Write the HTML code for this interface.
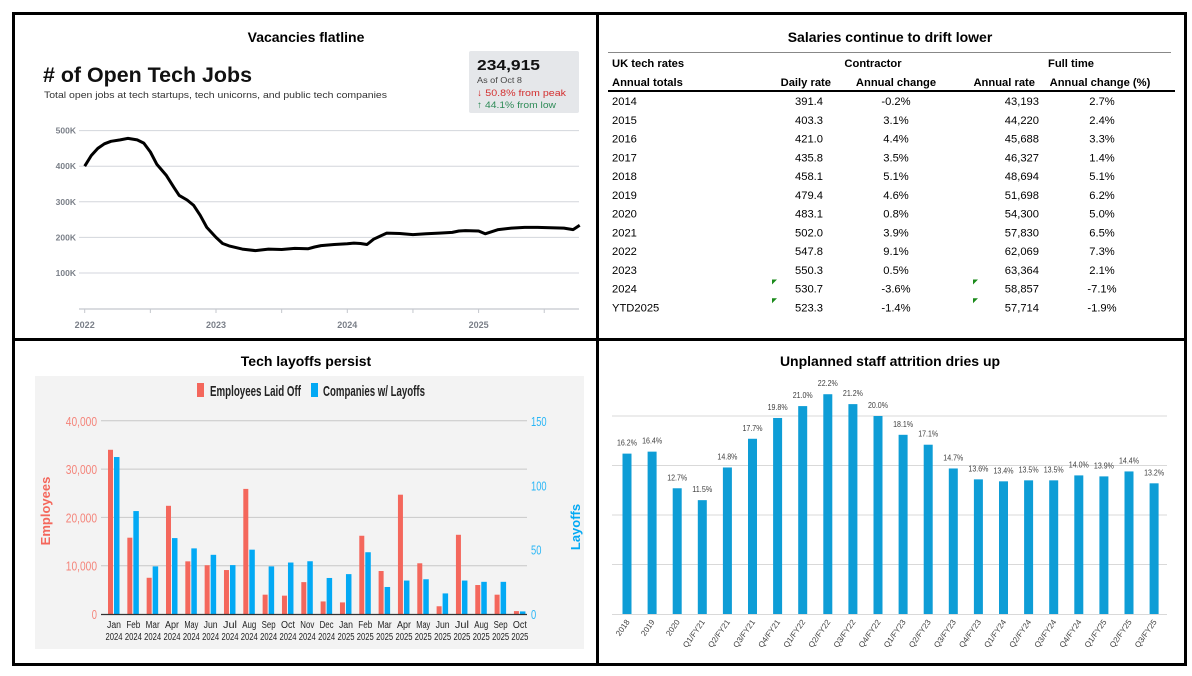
<!DOCTYPE html>
<html><head><meta charset="utf-8"><style>
body{margin:0;background:#fff;}
svg{display:block;font-family:"Liberation Sans",sans-serif;}
</style></head><body>
<svg id="s" width="1192" height="676" xmlns="http://www.w3.org/2000/svg">
<rect x="0" y="0" width="1192" height="676" fill="#fff"/>
<g fill="#000">
<rect x="12" y="12" width="1175" height="3"/>
<rect x="12" y="663" width="1175" height="3"/>
<rect x="12" y="12" width="3" height="654"/>
<rect x="1184" y="12" width="3" height="654"/>
<rect x="596" y="12" width="3" height="654"/>
<rect x="12" y="338" width="1175" height="3"/>
</g>
<text x="306" y="42" text-anchor="middle" font-size="14" font-weight="bold">Vacancies flatline</text>
<text x="890" y="42" text-anchor="middle" font-size="14" font-weight="bold">Salaries continue to drift lower</text>
<text x="306" y="366" text-anchor="middle" font-size="14" font-weight="bold">Tech layoffs persist</text>
<text x="890" y="366" text-anchor="middle" font-size="14" font-weight="bold">Unplanned staff attrition dries up</text>

<g id="tl">
<text x="43" y="82" font-size="21" font-weight="bold" fill="#111" textLength="209" lengthAdjust="spacingAndGlyphs"># of Open Tech Jobs</text>
<text x="44" y="98" font-size="9.4" fill="#333" textLength="343" lengthAdjust="spacingAndGlyphs">Total open jobs at tech startups, tech unicorns, and public tech companies</text>
<g>
<rect x="469" y="51" width="110" height="62" rx="2" fill="#e5e7ea"/>
<text x="477" y="70" font-size="15" font-weight="bold" fill="#111" textLength="63" lengthAdjust="spacingAndGlyphs">234,915</text>
<text x="477" y="83" font-size="8" fill="#444" textLength="45" lengthAdjust="spacingAndGlyphs">As of Oct 8</text>
<text x="477" y="96" font-size="9.5" fill="#d32f2f" textLength="89" lengthAdjust="spacingAndGlyphs">↓ 50.8% from peak</text>
<text x="477" y="108" font-size="9.5" fill="#2e8b57" textLength="79" lengthAdjust="spacingAndGlyphs">↑ 44.1% from low</text>
</g>
</g>

<g id="tbl" font-size="11.2" fill="#000">
<rect x="608" y="52" width="563" height="1" fill="#888"/>
<text x="612" y="67" font-weight="bold">UK tech rates</text>
<text x="873" y="67" font-weight="bold" text-anchor="middle">Contractor</text>
<text x="1071" y="67" font-weight="bold" text-anchor="middle">Full time</text>
<text x="612" y="86" font-weight="bold">Annual totals</text>
<text x="831" y="86" font-weight="bold" text-anchor="end">Daily rate</text>
<text x="896" y="86" font-weight="bold" text-anchor="middle">Annual change</text>
<text x="1035" y="86" font-weight="bold" text-anchor="end">Annual rate</text>
<text x="1100" y="86" font-weight="bold" text-anchor="middle">Annual change (%)</text>
<rect x="608" y="90" width="567" height="2" fill="#000"/>
</g>
</svg>
<script>
const NS="http://www.w3.org/2000/svg";
const svg=document.getElementById('s');
function mk(tag,attrs,parent,txt){const e=document.createElementNS(NS,tag);for(const k in attrs)e.setAttribute(k,attrs[k]);if(txt!==undefined)e.textContent=txt;(parent||svg).appendChild(e);return e;}

/* ---------- Chart 1: open tech jobs ---------- */
const jobYears=[2022.0,2022.05,2022.1,2022.15,2022.2,2022.27,2022.33,2022.4,2022.45,2022.5,2022.55,2022.62,2022.68,2022.72,2022.78,2022.83,2022.88,2022.93,2023.0,2023.05,2023.1,2023.2,2023.3,2023.4,2023.5,2023.6,2023.7,2023.75,2023.8,2023.9,2024.0,2024.05,2024.1,2024.15,2024.2,2024.3,2024.4,2024.5,2024.6,2024.7,2024.8,2024.85,2024.9,2025.0,2025.05,2025.15,2025.25,2025.35,2025.45,2025.55,2025.65,2025.72,2025.77];
const jobValues=[400,430,450,463,470,474,478,474,465,440,405,375,340,318,305,290,262,228,200,183,176,167,163,167,166,169,168,173,177,180,182,184,183,180,195,212,211,208,210,212,214,218,219,218,210,222,226,228,228,227,226,222,234];
const jobTicks=[100,200,300,400,500];
const jobTickLabels=['100K','200K','300K','400K','500K'];
const jobYearLabels=[2022,2023,2024,2025];
const tl=document.getElementById('tl');
const jx=y=>84.7+(y-2022)*131.3, jy=v=>308.6-v*0.356;
jobTicks.forEach((t,i)=>{
  const g=mk('line',{x1:79,x2:579,y1:jy(t),y2:jy(t),stroke:'#d3d6dc','stroke-width':1},tl);
  
  
  const l=mk('text',{x:76,y:jy(t)+3,'text-anchor':'end','font-size':8.5,'font-weight':'bold',fill:'#7a7f88'},tl,jobTickLabels[i]);
  
  
});
const ax=mk('line',{x1:79,x2:579,y1:309,y2:309,stroke:'#c4c7cd','stroke-width':1.2},tl);


for(let h=0;h<8;h++){const t=mk('line',{x1:jx(2022+h/2),x2:jx(2022+h/2),y1:309,y2:313,stroke:'#c4c7cd'},tl);
  
  }
jobYearLabels.forEach(y=>{const l=mk('text',{x:jx(y),y:328,'text-anchor':'middle','font-size':9,'font-weight':'bold',fill:'#7a7f88'},tl,String(y));
  
  });
const line=mk('polyline',{points:jobYears.map((y,i)=>jx(y).toFixed(1)+','+jy(jobValues[i]).toFixed(1)).join(' '),fill:'none',stroke:'#000','stroke-width':3,'stroke-linejoin':'round'},tl);



/* ---------- Table ---------- */
const rowYears=['2014','2015','2016','2017','2018','2019','2020','2021','2022','2023','2024','YTD2025'];
const dailyRate=['391.4','403.3','421.0','435.8','458.1','479.4','483.1','502.0','547.8','550.3','530.7','523.3'];
const contractChange=['-0.2%','3.1%','4.4%','3.5%','5.1%','4.6%','0.8%','3.9%','9.1%','0.5%','-3.6%','-1.4%'];
const annualRate=['43,193','44,220','45,688','46,327','48,694','51,698','54,300','57,830','62,069','63,364','58,857','57,714'];
const ftChange=['2.7%','2.4%','3.3%','1.4%','5.1%','6.2%','5.0%','6.5%','7.3%','2.1%','-7.1%','-1.9%'];
const tbl=document.getElementById('tbl');
rowYears.forEach((yr,i)=>{
  const y=105+i*18.75;
  const g=mk('g',{},tbl);
  
  
  mk('text',{x:612,y:y},g,yr);
  mk('text',{x:823,y:y,'text-anchor':'end'},g,dailyRate[i]);
  mk('text',{x:896,y:y,'text-anchor':'middle'},g,contractChange[i]);
  mk('text',{x:1039,y:y,'text-anchor':'end'},g,annualRate[i]);
  mk('text',{x:1102,y:y,'text-anchor':'middle'},g,ftChange[i]);
  if(i>=10){
    const a=mk('polygon',{points:`772,${y-13} 777,${y-13} 772,${y-8}`,fill:'#1a8a1a'},g);
    
    
    const b=mk('polygon',{points:`973,${y-13} 978,${y-13} 973,${y-8}`,fill:'#1a8a1a'},g);
    
    
  }
});

/* ---------- Chart 3: layoffs ---------- */
const layMonths=['Jan','Feb','Mar','Apr','May','Jun','Jul','Aug','Sep','Oct','Nov','Dec','Jan','Feb','Mar','Apr','May','Jun','Jul','Aug','Sep','Oct'];
const layYears=['2024','2024','2024','2024','2024','2024','2024','2024','2024','2024','2024','2024','2025','2025','2025','2025','2025','2025','2025','2025','2025','2025'];
const employeesLaidOff=[34000,15800,7500,22400,10900,10100,9100,25900,4000,3800,6600,2600,2400,16200,8900,24700,10500,1600,16400,6000,4000,600];
const companiesLayoffs=[122,80,37,59,51,46,38,50,37,40,41,28,31,48,21,26,27,16,26,25,25,2];
const empTicks=[0,10000,20000,30000,40000];
const layTicks=[0,50,100,150];
const bl=mk('g',{});


const bg=mk('rect',{x:35,y:376,width:549,height:273,fill:'#f3f3f3'},bl);


const ey=v=>614-v*0.004830, ly=v=>614-v*1.2867, bx=i=>114+i*19.33;
empTicks.forEach(t=>{
  if(t>0){const g=mk('line',{x1:101,x2:527,y1:ey(t),y2:ey(t),stroke:'#c8c8c8'},bl);
  
  }
  const s=t.toLocaleString('en-US');
  const l=mk('text',{x:97,y:ey(t)+5,'text-anchor':'end','font-size':13,fill:'#f4847a',textLength:s.length*5.2,lengthAdjust:'spacingAndGlyphs'},bl,s);
  
  
});
layTicks.forEach(t=>{
  const s=String(t);
  const l=mk('text',{x:531,y:ly(t)+5,'font-size':13,fill:'#29b6f6',textLength:s.length*5.2,lengthAdjust:'spacingAndGlyphs'},bl,s);
  
  
});
layMonths.forEach((m,i)=>{
  const r=mk('rect',{x:bx(i)-6,y:ey(employeesLaidOff[i]),width:5,height:614-ey(employeesLaidOff[i]),fill:'#f4675c'},bl);
  
  
  const b=mk('rect',{x:bx(i),y:ly(companiesLayoffs[i]),width:5.5,height:614-ly(companiesLayoffs[i]),fill:'#03a9f4'},bl);
  
  
  const t1=mk('text',{x:bx(i),y:628,'text-anchor':'middle','font-size':10,fill:'#222',textLength:14,lengthAdjust:'spacingAndGlyphs'},bl,m);
  
  
  const t2=mk('text',{x:bx(i),y:640,'text-anchor':'middle','font-size':10,fill:'#222',textLength:17,lengthAdjust:'spacingAndGlyphs'},bl,layYears[i]);
  
  
});
const bax=mk('line',{x1:101,x2:527,y1:614.5,y2:614.5,stroke:'#333','stroke-width':1.2},bl);


const et=mk('text',{x:0,y:0,'font-size':13,'font-weight':'bold',fill:'#f4675c','text-anchor':'middle',transform:'translate(50,511) rotate(-90)'},bl,'Employees');


const lt=mk('text',{x:0,y:0,'font-size':13,'font-weight':'bold',fill:'#03a9f4','text-anchor':'middle',transform:'translate(580,527) rotate(-90)'},bl,'Layoffs');


const lg1=mk('g',{},bl);


mk('rect',{x:197,y:383,width:7,height:14,fill:'#f4675c'},lg1);
mk('text',{x:210,y:396,'font-size':15,'font-weight':'bold',fill:'#222',textLength:91,lengthAdjust:'spacingAndGlyphs'},lg1,'Employees Laid Off');
const lg2=mk('g',{},bl);


mk('rect',{x:311,y:383,width:7,height:14,fill:'#03a9f4'},lg2);
mk('text',{x:323,y:396,'font-size':15,'font-weight':'bold',fill:'#222',textLength:102,lengthAdjust:'spacingAndGlyphs'},lg2,'Companies w/ Layoffs');

/* ---------- Chart 4: attrition ---------- */
const attrCats=['2018','2019','2020','Q1/FY21','Q2/FY21','Q3/FY21','Q4/FY21','Q1/FY22','Q2/FY22','Q3/FY22','Q4/FY22','Q1/FY23','Q2/FY23','Q3/FY23','Q4/FY23','Q1/FY24','Q2/FY24','Q3/FY24','Q4/FY24','Q1/FY25','Q2/FY25','Q3/FY25'];
const attrValues=[16.2,16.4,12.7,11.5,14.8,17.7,19.8,21.0,22.2,21.2,20.0,18.1,17.1,14.7,13.6,13.4,13.5,13.5,14.0,13.9,14.4,13.2];
const attrTicks=[5,10,15,20];
const br=mk('g',{});


const ay=v=>614-v*9.9, axc=i=>627+i*25.1;
attrTicks.forEach(t=>{const g=mk('line',{x1:612,x2:1167,y1:ay(t),y2:ay(t),stroke:'#d9d9d9'},br);
  
  });
attrCats.forEach((c,i)=>{
  const r=mk('rect',{x:axc(i)-4.5,y:ay(attrValues[i]),width:9,height:614-ay(attrValues[i]),fill:'#0e9dd6'},br);
  
  
  const v=mk('text',{x:axc(i),y:ay(attrValues[i])-8,'text-anchor':'middle','font-size':8.5,fill:'#404040',textLength:20,lengthAdjust:'spacingAndGlyphs'},br,attrValues[i].toFixed(1)+'%');
  
  
  const l=mk('text',{x:0,y:0,'text-anchor':'end','font-size':8,fill:'#404040',transform:`translate(${axc(i)+3},${622}) rotate(-55)`},br,c);
  
  
});
const aax=mk('line',{x1:612,x2:1167,y1:614.5,y2:614.5,stroke:'#d9d9d9'},br);


</script>
</body></html>
